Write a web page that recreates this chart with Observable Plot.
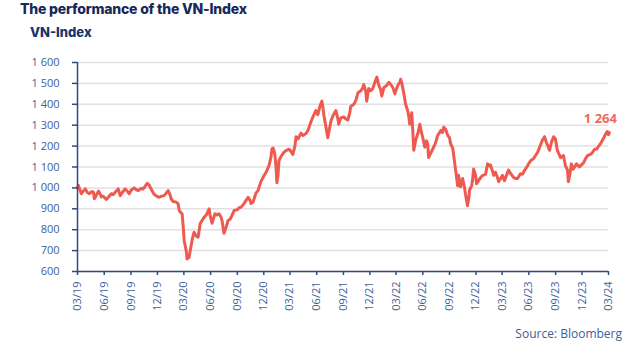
<!DOCTYPE html>
<html><head><meta charset="utf-8">
<script src="https://cdn.jsdelivr.net/npm/d3@7"></script>
<script src="https://cdn.jsdelivr.net/npm/@observablehq/plot@0.6"></script>
<style>
body{margin:0;background:#fff;width:629px;height:341px;overflow:hidden;position:relative;font-family:Inter,sans-serif}
#title{position:absolute;left:20px;top:0px;font:800 14px Inter;color:#17295a;letter-spacing:-0.2px;white-space:nowrap}
#sub{position:absolute;left:30px;top:24px;font:800 13px Inter;color:#17336b;white-space:nowrap}
#chart{position:absolute;left:0;top:44px}
#src{position:absolute;right:7px;top:325px;font:12px "Open Sans";color:#3d5e99;white-space:nowrap}
</style></head><body>
<div id="title">The performance of the VN-Index</div>
<div id="sub">VN-Index</div>
<div id="chart"></div>
<div id="src">Source: Bloomberg</div>
<script>
const dates = [
"2019-03-01","2019-03-04","2019-03-14","2019-03-21","2019-03-28","2019-04-04","2019-04-11","2019-04-18","2019-04-25","2019-04-28",
"2019-05-05","2019-05-12","2019-05-19","2019-05-22","2019-05-29","2019-06-08","2019-06-15","2019-06-25","2019-07-02","2019-07-09",
"2019-07-19","2019-07-26","2019-08-02","2019-08-12","2019-08-19","2019-08-26","2019-09-02","2019-09-12","2019-09-19","2019-09-26",
"2019-10-06","2019-10-13","2019-10-20","2019-10-27","2019-11-03","2019-11-06","2019-11-13","2019-11-20","2019-11-27","2019-12-07",
"2019-12-14","2019-12-24","2019-12-31","2020-01-07","2020-01-14","2020-01-17","2020-01-24","2020-02-04","2020-02-10","2020-02-14",
"2020-02-21","2020-02-24","2020-02-28","2020-03-02","2020-03-09","2020-03-12","2020-03-16","2020-03-19","2020-03-23","2020-03-30",
"2020-04-05","2020-04-12","2020-04-19","2020-04-26","2020-05-03","2020-05-10","2020-05-17","2020-05-27","2020-05-30","2020-06-06",
"2020-06-10","2020-06-16","2020-06-23","2020-06-30","2020-07-07","2020-07-10","2020-07-17","2020-07-24","2020-07-31","2020-08-07",
"2020-08-14","2020-08-21","2020-08-31","2020-09-07","2020-09-14","2020-09-24","2020-10-01","2020-10-08","2020-10-15","2020-10-18",
"2020-10-25","2020-11-04","2020-11-11","2020-11-21","2020-12-02","2020-12-09","2020-12-19","2020-12-26","2020-12-29","2021-01-02",
"2021-01-05","2021-01-08","2021-01-12","2021-01-15","2021-01-19","2021-01-22","2021-01-29","2021-02-08","2021-02-15","2021-02-26",
"2021-03-04","2021-03-11","2021-03-18","2021-03-22","2021-03-29","2021-04-08","2021-04-15","2021-04-25","2021-05-02","2021-05-12",
"2021-05-19","2021-05-29","2021-06-05","2021-06-12","2021-06-19","2021-06-22","2021-06-26","2021-07-03","2021-07-09","2021-07-16",
"2021-07-20","2021-07-27","2021-08-06","2021-08-13","2021-08-16","2021-08-23","2021-09-02","2021-09-09","2021-09-16","2021-09-23",
"2021-09-26","2021-10-07","2021-10-14","2021-10-21","2021-10-31","2021-11-07","2021-11-10","2021-11-17","2021-11-20","2021-11-27",
"2021-12-04","2021-12-11","2021-12-18","2021-12-25","2022-01-01","2022-01-07","2022-01-11","2022-01-18","2022-01-28","2022-02-04",
"2022-02-11","2022-02-18","2022-02-25","2022-03-03","2022-03-07","2022-03-14","2022-03-17","2022-03-21","2022-03-28","2022-04-03",
"2022-04-10","2022-04-14","2022-04-17","2022-04-24","2022-04-27","2022-05-01","2022-05-08","2022-05-15","2022-05-22","2022-05-25",
"2022-06-01","2022-06-08","2022-06-14","2022-06-18","2022-06-21","2022-06-28","2022-07-05","2022-07-15","2022-07-22","2022-08-02",
"2022-08-08","2022-08-12","2022-08-19","2022-08-26","2022-09-01","2022-09-05","2022-09-12","2022-09-15","2022-09-22","2022-09-29",
"2022-10-02","2022-10-09","2022-10-16","2022-10-23","2022-10-26","2022-11-02","2022-11-06","2022-11-09","2022-11-16","2022-11-19",
"2022-11-23","2022-11-30","2022-12-03","2022-12-10","2022-12-17","2022-12-24","2023-01-03","2023-01-10","2023-01-17","2023-01-20",
"2023-01-27","2023-01-31","2023-02-06","2023-02-13","2023-02-17","2023-02-24","2023-03-02","2023-03-09","2023-03-16","2023-03-23",
"2023-03-30","2023-04-09","2023-04-16","2023-04-23","2023-05-03","2023-05-10","2023-05-20","2023-05-27","2023-05-31","2023-06-07",
"2023-06-17","2023-06-24","2023-07-01","2023-07-11","2023-07-18","2023-07-25","2023-08-01","2023-08-04","2023-08-11","2023-08-18",
"2023-08-25","2023-08-31","2023-09-07","2023-09-18","2023-09-28","2023-10-05","2023-10-12","2023-10-15","2023-10-22","2023-10-25",
"2023-11-01","2023-11-12","2023-11-22","2023-11-29","2023-12-06","2023-12-13","2023-12-20","2023-12-30","2024-01-06","2024-01-13",
"2024-01-20","2024-01-27","2024-02-02","2024-02-12","2024-02-19","2024-02-23","2024-02-26","2024-03-01","2024-03-04"
];
const values = [
1000,1012,972,985,995,978,972,982,980,948,
965,985,968,957,960,945,955,972,968,980,
995,963,978,995,985,972,990,1000,992,987,
998,995,1008,1022,1012,1003,985,968,962,955,
960,963,975,987,965,948,935,932,925,892,
880,876,810,748,700,660,665,668,700,756,
788,770,764,828,845,860,870,900,870,831,
850,876,870,876,860,845,783,810,844,850,
870,892,895,905,908,925,940,955,940,925,
932,975,987,1030,1059,1075,1107,1150,1187,1190,
1179,1160,1100,1025,1060,1130,1150,1170,1178,1185,
1175,1160,1200,1245,1235,1262,1251,1260,1275,1315,
1340,1370,1350,1390,1415,1390,1345,1290,1240,1290,
1320,1345,1370,1330,1305,1335,1340,1330,1325,1360,
1390,1400,1420,1455,1465,1480,1495,1460,1415,1475,
1465,1475,1505,1530,1490,1470,1440,1480,1490,1505,
1495,1480,1450,1475,1490,1505,1520,1500,1450,1400,
1370,1340,1305,1360,1290,1180,1230,1260,1305,1280,
1240,1195,1225,1210,1145,1165,1185,1215,1250,1275,
1265,1290,1280,1250,1240,1210,1190,1160,1085,1010,
1060,1005,1045,1000,970,915,950,990,1010,1035,
1090,1060,1020,1035,1050,1060,1065,1115,1105,1110,
1080,1060,1075,1050,1030,1045,1060,1035,1060,1085,
1070,1050,1045,1045,1068,1065,1090,1105,1115,1130,
1140,1155,1170,1205,1230,1245,1215,1205,1180,1220,
1245,1235,1180,1145,1155,1105,1085,1030,1080,1115,
1090,1115,1100,1110,1120,1140,1155,1160,1170,1185,
1185,1200,1210,1235,1255,1265,1270,1255,1264
];
const yTicks = [600,700,800,900,1000,1100,1200,1300,1400,1500,1600];
const xTicks = ["2019-03-01","2019-06-01","2019-09-01","2019-12-01","2020-03-01","2020-06-01","2020-09-01","2020-12-01",
"2021-03-01","2021-06-01","2021-09-01","2021-12-01","2022-03-01","2022-06-01","2022-09-01","2022-12-01",
"2023-03-01","2023-06-01","2023-09-01","2023-12-01","2024-03-01"];
const lastLabel = "1 264";

const parse = d3.utcParse("%Y-%m-%d");
const data = dates.map((d, i) => ({date: parse(d), value: values[i]}));
const tickDates = xTicks.map(parse);
const yFmt = d => d >= 1000 ? `${Math.floor(d / 1000)} ${String(d % 1000).padStart(3, "0")}` : String(d);
const navy = "#2d4b7c";
const txt = "#3d5e99";
const red = "#ef5a50";

const chart = Plot.plot({
  width: 629,
  height: 271,
  marginLeft: 77,
  marginRight: 21,
  marginTop: 18,
  marginBottom: 44,
  style: {fontFamily: "Open Sans, sans-serif", background: "#fff"},
  x: {type: "utc", domain: [tickDates[0], tickDates[tickDates.length - 1]]},
  y: {domain: [600, 1600]},
  marks: [
    Plot.gridY(yTicks, {stroke: "#e0e0e0", strokeOpacity: 1, strokeWidth: 1.5}),
    Plot.lineY(data, {x: "date", y: "value", stroke: red, strokeWidth: 3, strokeLinejoin: "round"}),
    Plot.ruleY([600], {stroke: navy, strokeWidth: 1.5}),
    Plot.ruleX([tickDates[0]], {stroke: navy, strokeWidth: 1.5}),
    Plot.axisY(yTicks, {tickFormat: yFmt, tickSize: 5, tickPadding: 13, stroke: navy, strokeWidth: 1.5, fill: txt, fontSize: 11, label: null}),
    Plot.axisX(tickDates, {tickFormat: d3.utcFormat("%m/%y"), tickRotate: -90, tickSize: 4, tickPadding: 6, stroke: navy, strokeWidth: 1.5, fill: txt, fontSize: 11, label: null}),
    Plot.text([data[data.length - 1]], {x: "date", y: "value", text: () => lastLabel, dx: -9, dy: -14, fill: "#ef6a5a", fontWeight: 700, fontSize: 13})
  ]
});
document.getElementById("chart").append(chart);
</script>
</body></html>
